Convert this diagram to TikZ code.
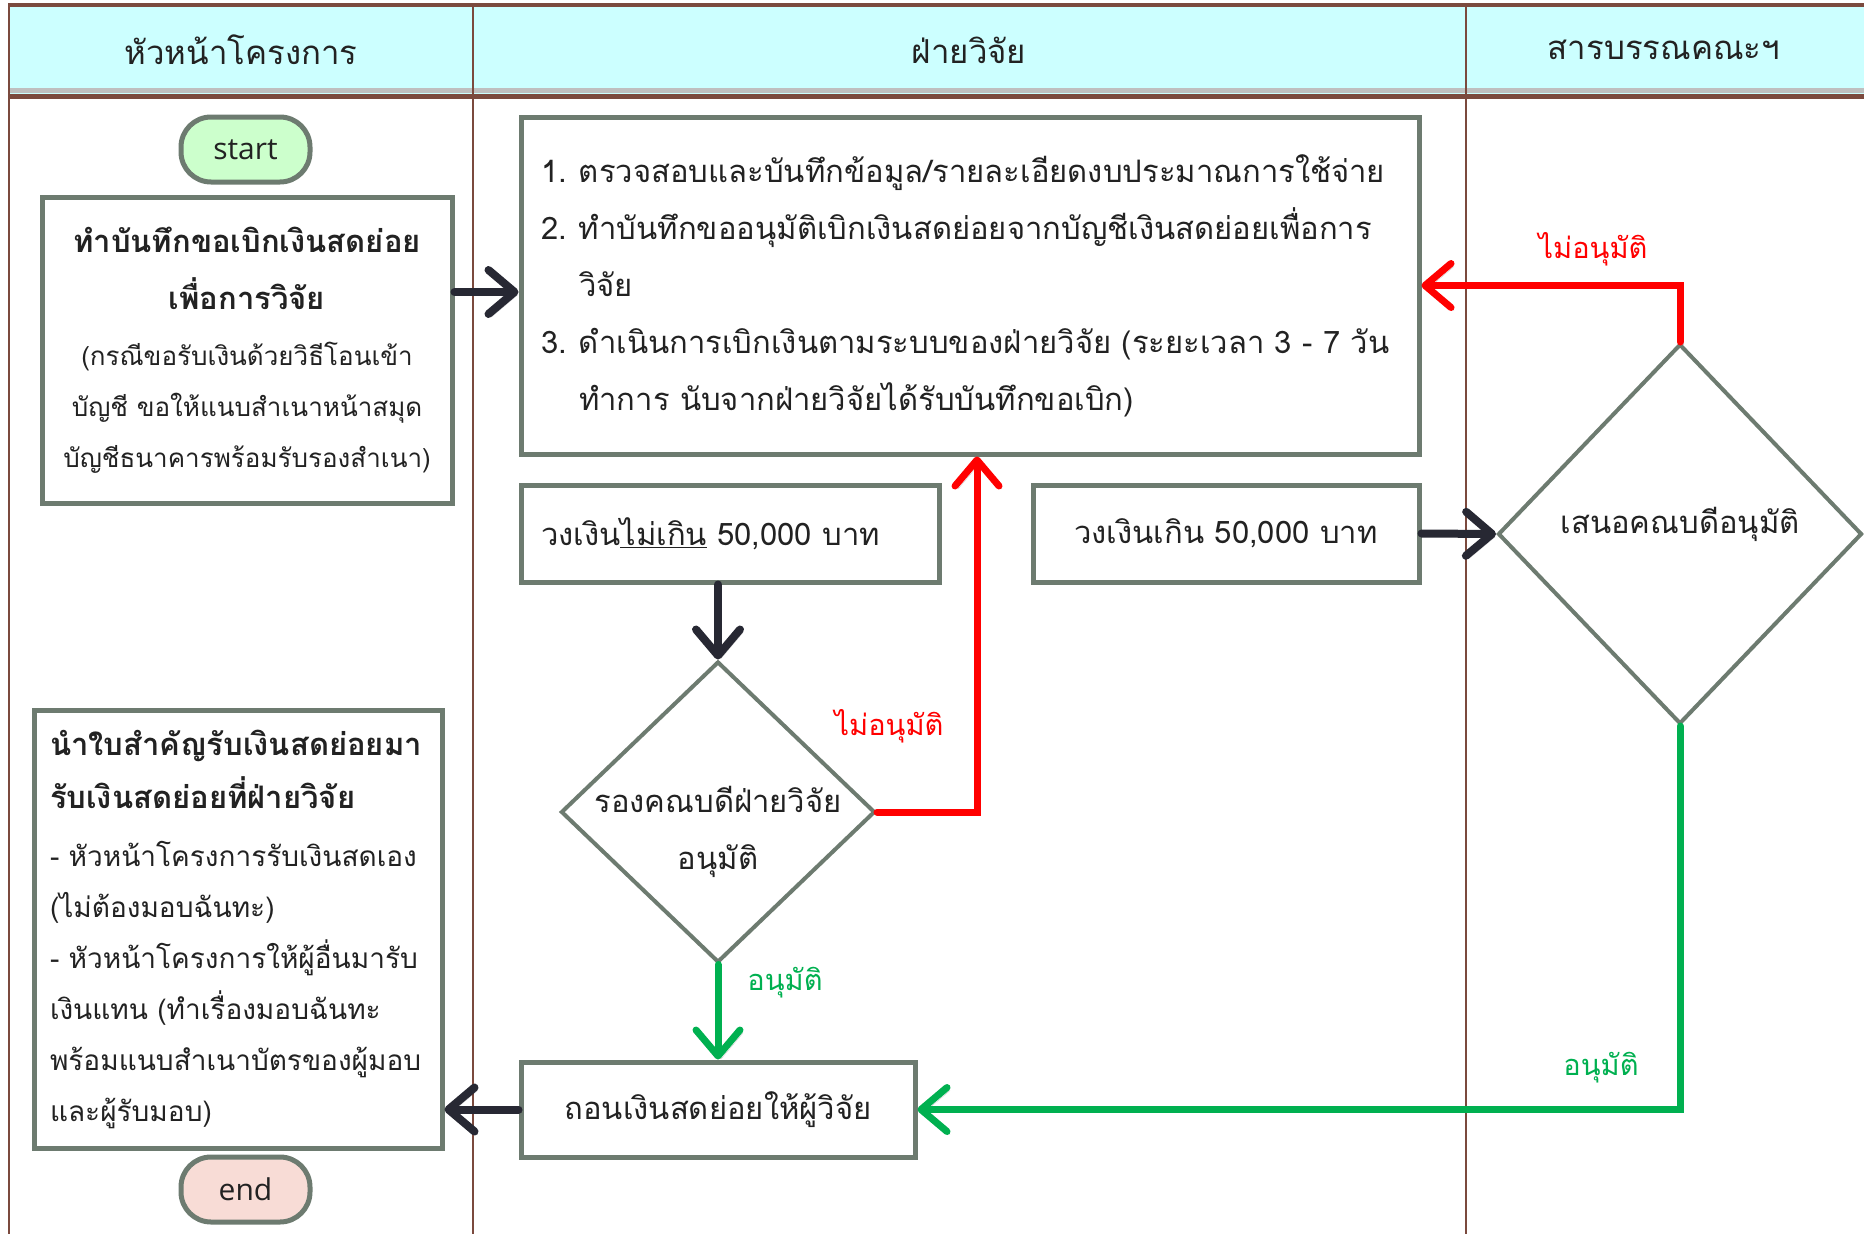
\documentclass[tikz,border=0pt]{standalone}
\usepackage{fontspec}
\usetikzlibrary{shapes.geometric,arrows.meta,calc}
\newfontfamily\thai[Script=Thai]{Loma}
\newfontfamily\latf{Open Sans}
\definecolor{headc}{HTML}{CCFFFF}
\definecolor{lanec}{HTML}{7B4A3E}
\definecolor{boxc}{HTML}{6D7B70}
\definecolor{startc}{HTML}{CCFFCC}
\definecolor{endc}{HTML}{F8DCD6}
\definecolor{darkc}{HTML}{272833}
\definecolor{redc}{HTML}{FF0000}
\definecolor{greenc}{HTML}{00B050}
\definecolor{txtc}{HTML}{222222}
\begin{document}
\begin{tikzpicture}[x=1pt,y=-1pt,
  hdr/.style={font=\thai\fontsize{33}{38}\selectfont, text=txtc},
  box/.style={draw=boxc, line width=5pt, fill=white, rectangle, inner sep=0pt, text=txtc},
  term/.style={draw=boxc, line width=5pt, rounded corners=30pt, minimum width=129pt, minimum height=65pt, font=\latf\fontsize{30}{34}\selectfont, text=txtc},
  dia/.style={draw=boxc, line width=4pt, diamond, inner sep=0pt, fill=white},
  body/.style={font=\thai\fontsize{31}{57}\selectfont, text=txtc},
  arr/.style={line width=8pt, -{Straight Barb[length=26pt,width=44pt,round]}, line cap=round,
     preaction={draw, black, opacity=.2, transform canvas={xshift=3pt,yshift=-3pt}}},
  darr/.style={arr, darkc},
  rarr/.style={arr, redc, line width=7pt},
  garr/.style={arr, greenc, line width=7pt},
  rlab/.style={font=\thai\fontsize{29}{32}\selectfont, text=redc},
  glab/.style={font=\thai\fontsize{29}{32}\selectfont, text=greenc}
]
\useasboundingbox (0,0) rectangle (1864,1234);
% lanes
\fill[headc] (9,6) rectangle (1864,95);
\fill[black!25] (9,88) rectangle (1864,93);
\draw[lanec, line width=4pt] (9,5) -- (1864,5);
\draw[lanec, line width=5pt] (9,96) -- (1864,96);
\draw[lanec, line width=1.6pt] (9,3) -- (9,1234);
\draw[lanec, line width=1.6pt] (473,3) -- (473,1234);
\draw[lanec, line width=1.6pt] (1466,3) -- (1466,1234);
\node[hdr] (h1) at (241,50) {หัวหน้าโครงการ};
\node[hdr] (h2) at (969,50) {ฝ่ายวิจัย};
\node[hdr] (h3) at (1664,50) {สารบรรณคณะฯ};

% nodes
\node[term, fill=startc] (start) at (245.5,149.5) {start};
\node[box, minimum width=410pt, minimum height=306pt, align=center,
      font=\thai\fontsize{26}{51}\selectfont] (b1) at (247,350)
  {{\fontsize{31}{57}\selectfont\bfseries ทำบันทึกขอเบิกเงินสดย่อย}\\[6pt]
   {\fontsize{31}{57}\selectfont\bfseries เพื่อการวิจัย}\\[5pt]
   (กรณีขอรับเงินด้วยวิธีโอนเข้า\\
   บัญชี ขอให้แนบสำเนาหน้าสมุด\\
   บัญชีธนาคารพร้อมรับรองสำเนา)};
\node[box, minimum width=898pt, minimum height=337pt, text width=858pt, align=left, body] (b2) at (970,285.5)
  {\makebox[38pt][l]{1.}ตรวจสอบและบันทึกข้อมูล/รายละเอียดงบประมาณการใช้จ่าย\\
   \makebox[38pt][l]{2.}ทำบันทึกขออนุมัติเบิกเงินสดย่อยจากบัญชีเงินสดย่อยเพื่อการ\\
   \hspace*{38pt}วิจัย\\
   \makebox[38pt][l]{3.}ดำเนินการเบิกเงินตามระบบของฝ่ายวิจัย (ระยะเวลา 3 - 7 วัน\\
   \hspace*{38pt}ทำการ นับจากฝ่ายวิจัยได้รับบันทึกขอเบิก)};
\node[box, minimum width=418pt, minimum height=97pt, text width=378pt, align=left, body] (b3) at (730,533.5)
  {วงเงิน\underline{ไม่เกิน} 50,000 บาท};
\node[box, minimum width=386pt, minimum height=97pt, body] (b4) at (1226,533.5)
  {วงเงินเกิน 50,000 บาท};
\node[dia, minimum width=314pt, minimum height=301pt] (d1) at (718,812) {};
\node[body, align=center] (d1t) at ([yshift=-20pt]d1.center) {รองคณบดีฝ่ายวิจัย\\อนุมัติ};
\node[dia, minimum width=364pt, minimum height=380pt] (d2) at (1680,534) {};
\node[body] (d2t) at ([yshift=10pt]d2.center) {เสนอคณบดีอนุมัติ};
\node[box, minimum width=394pt, minimum height=95pt, body] (b5) at (718,1109.5)
  {ถอนเงินสดย่อยให้ผู้วิจัย};
\node[box, minimum width=408pt, minimum height=438pt, text width=376pt, align=left,
      font=\thai\fontsize{28}{51}\selectfont] (b6) at (238,929)
  {{\fontsize{31}{53}\selectfont\bfseries นำใบสำคัญรับเงินสดย่อยมา}\\[2pt]
   {\fontsize{31}{53}\selectfont\bfseries รับเงินสดย่อยที่ฝ่ายวิจัย}\\[7pt]
   - หัวหน้าโครงการรับเงินสดเอง\\
   (ไม่ต้องมอบฉันทะ)\\
   - หัวหน้าโครงการให้ผู้อื่นมารับ\\
   เงินแทน (ทำเรื่องมอบฉันทะ\\
   พร้อมแนบสำเนาบัตรของผู้มอบ\\
   และผู้รับมอบ)};
\node[term, fill=endc] (end) at (245.5,1189.5) {end};

% connectors
\draw[darr] (b1.east |- 0,292) -- (b2.west |- 0,292);
\draw[darr] (b3.south -| d1.north) -- (d1.north);
\draw[rarr] (d1.east) -| ([xshift=7pt]b2.south);
\draw[garr] (d1.south) -- (b5.north);
\draw[darr] (b4.east) -- (d2.west);
\draw[rarr] (d2.north) |- (b2.east);
\draw[garr] (d2.south) |- (b5.east);
\draw[darr] (b5.west) -- (b5.west -| b6.east);

% labels
\node[rlab] (l1) at (889,726) {ไม่อนุมัติ};
\node[rlab] (l2) at (1593,249) {ไม่อนุมัติ};
\node[glab] (l3) at (785,983) {อนุมัติ};
\node[glab] (l4) at (1601,1068) {อนุมัติ};
\end{tikzpicture}
\end{document}
